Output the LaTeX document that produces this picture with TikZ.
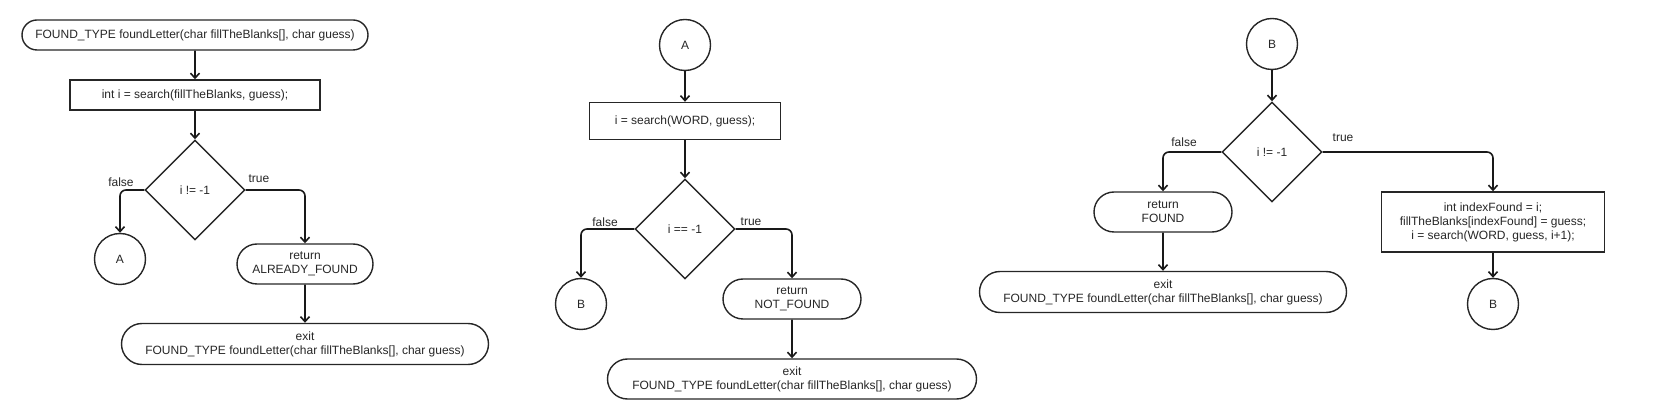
\documentclass[tikz,border=0pt]{standalone}
\usepackage{fontspec}
\setmainfont{Liberation Sans}
\usetikzlibrary{arrows.meta, positioning, shapes.geometric, shapes.misc}

\begin{document}
\begin{tikzpicture}[
  x=1pt, y=-1pt,
  every node/.style={font=\fontsize{12}{14}\selectfont, align=center, text=black!85},
  term/.style={draw=black!85, line width=1.4pt, rounded rectangle, inner sep=2pt},
  proc/.style={draw=black!85, line width=1.4pt, rectangle, inner sep=2pt},
  decide/.style={draw=black!85, line width=1.4pt, diamond, inner sep=0pt, minimum width=100pt, minimum height=100pt},
  conn/.style={draw=black!85, line width=1.4pt, circle, minimum size=51pt, inner sep=0pt},
  lbl/.style={inner sep=0pt},
  arrow/.style={-{Straight Barb[length=5pt, width=9pt]}, line width=1.6pt, black!90, rounded corners=6pt},
]
\useasboundingbox (0,0) rectangle (1655,419);

% Nodes: foundLetter
\node[term, minimum width=350pt, minimum height=30pt] (start) at (195,35) {FOUND\_TYPE foundLetter(char fillTheBlanks[], char guess)};
\node[proc, minimum width=250pt, minimum height=30pt] (search1) at (195,95) {int i = search(fillTheBlanks, guess);};
\node[decide] (check1) at (195,190) {i != -1};
\node[conn] (toA) at (120,259) {A};
\node[term, minimum width=140pt, minimum height=40pt] (retAlready) at (305,264) {return\\ALREADY\_FOUND};
\node[term, minimum width=371pt, minimum height=41pt] (exit1) at (305,344) {exit\\FOUND\_TYPE foundLetter(char fillTheBlanks[], char guess)};
\node[lbl] (false1) at (121,182) {false};
\node[lbl] (true1) at (259,179) {true};

% Nodes: A
\node[conn] (fromA) at (685,45) {A};
\node[proc, minimum width=191pt, minimum height=37pt] (search2) at (685,121) {i = search(WORD, guess);};
\node[decide] (check2) at (685,229) {i == -1};
\node[conn] (toB) at (581,304) {B};
\node[term, minimum width=142pt, minimum height=40pt] (retNot) at (792,299) {return\\NOT\_FOUND};
\node[term, minimum width=373pt, minimum height=40pt] (exit2) at (792,379) {exit\\FOUND\_TYPE foundLetter(char fillTheBlanks[], char guess)};
\node[lbl] (false2) at (605,222) {false};
\node[lbl] (true2) at (751,222) {true};

% Nodes: B
\node[conn] (fromB) at (1272,44) {B};
\node[decide] (check3) at (1272,152) {i != -1};
\node[term, minimum width=142pt, minimum height=40pt] (retFound) at (1163,212) {return\\FOUND};
\node[term, minimum width=371pt, minimum height=41pt] (exit3) at (1163,292) {exit\\FOUND\_TYPE foundLetter(char fillTheBlanks[], char guess)};
\node[proc, minimum width=223pt, minimum height=60pt] (update) at (1493,222) {int indexFound = i;\\fillTheBlanks[indexFound] = guess;\\i = search(WORD, guess, i+1);};
\node[conn] (loopB) at (1493,304) {B};
\node[lbl] (false3) at (1184,142) {false};
\node[lbl] (true3) at (1343,138) {true};

% Arrows
\draw[arrow] (start) -- (search1);
\draw[arrow] (search1) -- (check1);
\draw[arrow] (check1.west) -| (toA.north);
\draw[arrow] (check1.east) -| (retAlready.north);
\draw[arrow] (retAlready) -- (exit1);

\draw[arrow] (fromA) -- (search2);
\draw[arrow] (search2) -- (check2);
\draw[arrow] (check2.west) -| (toB.north);
\draw[arrow] (check2.east) -| (retNot.north);
\draw[arrow] (retNot) -- (exit2);

\draw[arrow] (fromB) -- (check3);
\draw[arrow] (check3.west) -| (retFound.north);
\draw[arrow] (check3.east) -| (update.north);
\draw[arrow] (retFound) -- (exit3);
\draw[arrow] (update) -- (loopB);

\end{tikzpicture}
\end{document}
